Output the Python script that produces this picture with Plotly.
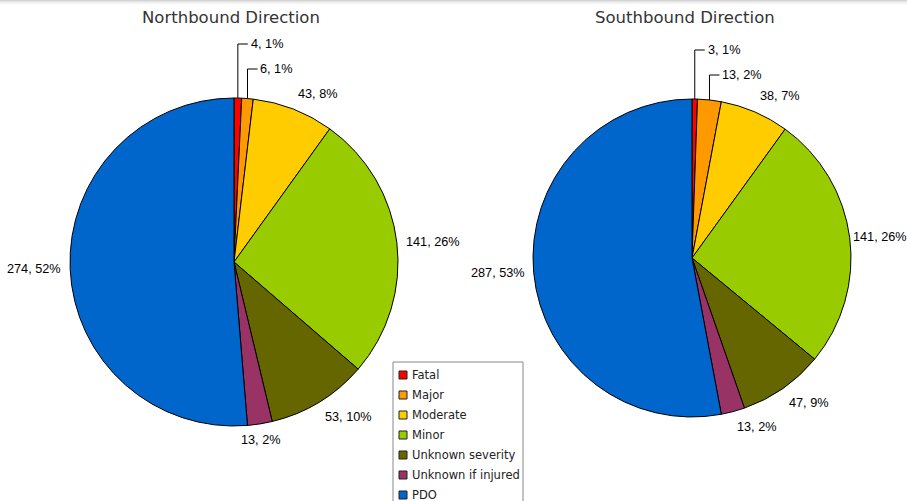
import math
import plotly.graph_objects as go

categories = ["Fatal", "Major", "Moderate", "Minor", "Unknown severity", "Unknown if injured", "PDO"]
north_values = [4, 6, 43, 141, 53, 13, 274]
north_pct = ["1%", "1%", "8%", "26%", "10%", "2%", "52%"]
south_values = [3, 13, 38, 141, 47, 13, 287]
south_pct = ["1%", "2%", "7%", "26%", "9%", "2%", "53%"]
colors = ["#FF0000", "#FF9900", "#FFCC00", "#99CC00", "#666600", "#993366", "#0066CC"]

W, H = 907, 501
LABEL_SIZE = 12.7
LABEL_FONT = dict(family="Liberation Sans, Arial", size=LABEL_SIZE, color="#000000")


def px(x):
    return x / W


def py(y):
    return 1 - y / H


def text_width(t):
    # approximate Arial/Liberation Sans advance widths
    w = 0.0
    for ch in t:
        if ch.isdigit():
            w += 0.556
        elif ch in ", ":
            w += 0.278
        elif ch == "%":
            w += 0.889
        else:
            w += 0.6
    return w * LABEL_SIZE


fig = go.Figure()


def add_pie(values, pct, cx, cy, r, leader_top):
    fig.add_trace(go.Pie(
        labels=categories, values=values, textinfo="none",
        marker=dict(colors=colors, line=dict(color="#000000", width=1)),
        sort=False, direction="clockwise", rotation=0, hole=0, showlegend=False,
        domain=dict(x=[px(cx - r), px(cx + r)], y=[py(cy + r), py(cy - r)]),
    ))
    total = float(sum(values))
    cum = 0.0
    k = 0
    for v, p in zip(values, pct):
        mid = (cum + v / 2.0) / total * 360.0
        cum += v
        th = math.radians(mid)
        s, c = math.sin(th), math.cos(th)
        text = f"{v}, {p}"
        if mid < 12:
            xs, ys = cx + r * s, cy - r * c
            yl = leader_top + 25 * k
            k += 1
            fig.add_shape(type="path", xref="paper", yref="paper",
                          path=f"M {px(xs)},{py(ys)} L {px(xs)},{py(yl)} L {px(xs + 10)},{py(yl)}",
                          line=dict(color="#000000", width=1))
            fig.add_annotation(text=text, x=px(xs + 11), y=py(yl), xref="paper", yref="paper",
                               xanchor="left", yanchor="middle", showarrow=False, font=LABEL_FONT)
        else:
            R = r + 7
            x, y = cx + R * s, cy - R * c
            xa = "left" if s > 0.2 else ("right" if s < -0.2 else "center")
            ya = "bottom" if c > 0.3 else ("top" if c < -0.3 else "middle")
            if xa == "left":
                # keep the label inside the page
                x = min(x, W - 2 - text_width(text))
            fig.add_annotation(text=text, x=px(x), y=py(y), xref="paper", yref="paper",
                               xanchor=xa, yanchor=ya, showarrow=False, font=LABEL_FONT)


add_pie(north_values, north_pct, 234, 262, 164, 44)
add_pie(south_values, south_pct, 692, 258, 159, 50)

TITLE_FONT = dict(family="DejaVu Sans, Verdana", size=16.5, color="#333333")
fig.add_annotation(text="Northbound Direction", x=px(231), y=py(17), xref="paper", yref="paper",
                   xanchor="center", yanchor="middle", showarrow=False, font=TITLE_FONT)
fig.add_annotation(text="Southbound Direction", x=px(685), y=py(17), xref="paper", yref="paper",
                   xanchor="center", yanchor="middle", showarrow=False, font=TITLE_FONT)

# legend (drawn manually to mimic the compact original)
fig.add_shape(type="rect", xref="paper", yref="paper", x0=px(393), x1=px(523), y0=py(510), y1=py(362),
              line=dict(color="#888888", width=1), fillcolor="white")
for i, (name, col) in enumerate(zip(categories, colors)):
    yc = 375 + 20 * i
    fig.add_shape(type="rect", xref="paper", yref="paper", x0=px(399), x1=px(407),
                  y0=py(yc + 4), y1=py(yc - 4), line=dict(color="#222222", width=1), fillcolor=col)
    fig.add_annotation(text=name, x=px(410), y=py(yc), xref="paper", yref="paper",
                       xanchor="left", yanchor="middle", showarrow=False,
                       font=dict(family="DejaVu Sans, Verdana", size=11.5, color="#222222"))

# subtle shadow at top edge
for i, c in enumerate(["#d4d4d4", "#e2e2e2", "#eeeeee", "#f6f6f6", "#fbfbfb"]):
    fig.add_shape(type="rect", xref="paper", yref="paper", x0=0, x1=1,
                  y0=1 - (i + 1) / H, y1=1 - i / H, line=dict(width=0), fillcolor=c, layer="below")

fig.update_layout(
    width=W, height=H, margin=dict(l=0, r=0, t=0, b=0),
    paper_bgcolor="white", plot_bgcolor="white", showlegend=False,
)

fig.write_html("out.html")
